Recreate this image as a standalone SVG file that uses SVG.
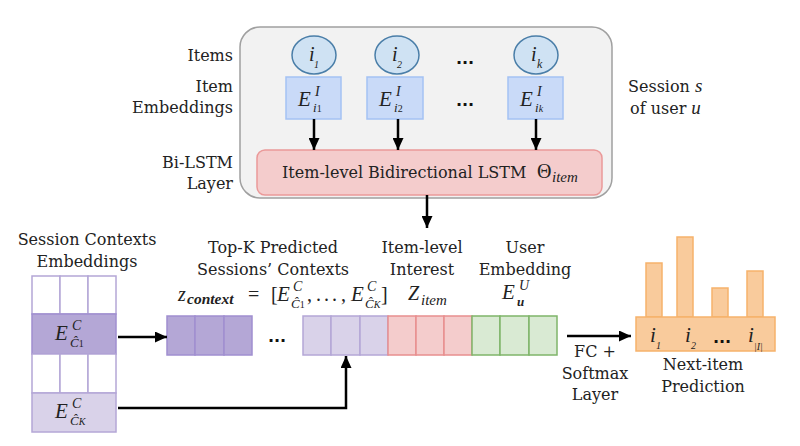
<svg xmlns="http://www.w3.org/2000/svg" width="800" height="446" viewBox="0 0 800 446">
<defs>
<marker id="ah" markerUnits="userSpaceOnUse" markerWidth="12" markerHeight="11" refX="12" refY="5.5" orient="auto">
<path d="M0,0 L12,5.5 L0,11 z" fill="#000"/>
</marker>
</defs>
<style>
.lbl{font-family:"DejaVu Serif","Liberation Serif",serif;font-size:16px;fill:#222}
.m{font-family:"Liberation Serif",serif;font-style:italic;fill:#222}
.up{font-family:"Liberation Serif",serif;font-style:normal;fill:#222}
.dots{font-family:"DejaVu Sans",sans-serif;font-size:16px;font-weight:bold;fill:#111}
.emb{fill:#c9daf8;stroke:#a4c2f4;stroke-width:1.5}
.item{fill:#cfe2f3;stroke:#4a7ea8;stroke-width:1.5}
.dp{fill:#b4a7d6;stroke:#a08fd0;stroke-width:1.5}
.lp{fill:#d9d2e9;stroke:#b4a7d6;stroke-width:1.5}
.wh{fill:#fff;stroke:#b4a7d6;stroke-width:1.5}
.rd{fill:#f4cccc;stroke:#e88f8f;stroke-width:1.5}
.gr{fill:#d9ead3;stroke:#7fb56a;stroke-width:1.5}
.or{fill:#f9cb9c;stroke:#f6b26b;stroke-width:1.5}
.cn{stroke:#000;stroke-width:2.5;fill:none}
</style>
<rect width="800" height="446" fill="#fff"/>

<g id="session">
<rect x="240" y="27" width="372" height="171" rx="20" fill="#f2f2f2" stroke="#a0a0a0" stroke-width="1.5"/>
</g>

<g id="labels-left">
<text class="lbl" x="233" y="61" text-anchor="end">Items</text>
<text class="lbl" x="233" y="92" text-anchor="end">Item</text>
<text class="lbl" x="233" y="113" text-anchor="end">Embeddings</text>
<text class="lbl" x="233" y="168" text-anchor="end">Bi-LSTM</text>
<text class="lbl" x="233" y="189" text-anchor="end">Layer</text>
</g>

<g id="session-label">
<text class="lbl" x="628" y="92">Session <tspan font-family="Liberation Serif" font-style="italic" font-size="19">s</tspan></text>
<text class="lbl" x="630" y="114">of user <tspan font-family="Liberation Serif" font-style="italic" font-size="19">u</tspan></text>
</g>

<g id="item1">
<ellipse class="item" cx="314" cy="55" rx="22" ry="19"/>
<text class="m" x="309" y="61" font-size="20">i</text>
<text class="m" x="314" y="68" font-size="10">1</text>
</g>
<g id="item2">
<ellipse class="item" cx="397" cy="55" rx="22" ry="19"/>
<text class="m" x="392" y="61" font-size="20">i</text>
<text class="m" x="397" y="68" font-size="10">2</text>
</g>
<g id="itemk">
<ellipse class="item" cx="536" cy="55" rx="22" ry="19"/>
<text class="m" x="531" y="61" font-size="20">i</text>
<text class="m" x="537" y="68" font-size="12">k</text>
</g>
<text class="dots" x="465" y="64" text-anchor="middle">...</text>

<g id="emb1">
<rect class="emb" x="286" y="77" width="55" height="42"/>
<text class="m" x="298" y="106" font-size="21">E</text>
<text class="m" x="315" y="96" font-size="14">I</text>
<text class="m" x="313" y="112" font-size="13">i<tspan font-size="10" font-style="normal">1</tspan></text>
</g>
<g id="emb2">
<rect class="emb" x="367" y="77" width="56" height="42"/>
<text class="m" x="379" y="106" font-size="21">E</text>
<text class="m" x="396" y="96" font-size="14">I</text>
<text class="m" x="394" y="112" font-size="13">i<tspan font-size="10" font-style="normal">2</tspan></text>
</g>
<g id="embk">
<rect class="emb" x="508" y="77" width="55" height="42"/>
<text class="m" x="520" y="106" font-size="21">E</text>
<text class="m" x="537" y="96" font-size="14">I</text>
<text class="m" x="535" y="112" font-size="13">i<tspan font-size="10">k</tspan></text>
</g>
<text class="dots" x="465" y="106" text-anchor="middle">...</text>

<g id="lstm">
<rect x="257" y="150" width="345" height="45" rx="8" fill="#f4cccc" stroke="#ea9999" stroke-width="1.5"/>
<text class="lbl" x="282" y="178">Item-level Bidirectional LSTM</text>
<text class="up" x="537" y="178" font-size="20">Θ</text>
<text class="m" x="552" y="182" font-size="15">item</text>
</g>

<g id="context-embeddings">
<text class="lbl" x="87" y="245" text-anchor="middle">Session Contexts</text>
<text class="lbl" x="87" y="267" text-anchor="middle">Embeddings</text>
<rect class="wh" x="32" y="276" width="28" height="38"/>
<rect class="wh" x="60" y="276" width="28" height="38"/>
<rect class="wh" x="88" y="276" width="28" height="38"/>
<rect class="dp" x="32" y="314" width="84" height="40"/>
<rect class="wh" x="32" y="354" width="28" height="39"/>
<rect class="wh" x="60" y="354" width="28" height="39"/>
<rect class="wh" x="88" y="354" width="28" height="39"/>
<rect class="lp" x="32" y="393" width="84" height="39"/>
<text class="m" x="55" y="340" font-size="21">E</text>
<text class="m" x="72" y="330" font-size="14">C</text>
<text class="m" x="70" y="347" font-size="13">Ĉ<tspan font-size="10" font-style="normal">1</tspan></text>
<text class="m" x="55" y="418" font-size="21">E</text>
<text class="m" x="72" y="408" font-size="14">C</text>
<text class="m" x="70" y="425" font-size="13">Ĉ<tspan font-size="10">K</tspan></text>
</g>

<g id="topk">
<text class="lbl" x="273" y="253" text-anchor="middle">Top-K Predicted</text>
<text class="lbl" x="273" y="275" text-anchor="middle">Sessions’ Contexts</text>
<text class="m" x="178" y="301" font-size="20">z</text>
<text class="m" x="187" y="304" font-size="15.5" font-weight="bold">context</text>
<text class="up" x="248" y="301" font-size="20">=</text>
<text class="up" x="271" y="301" font-size="20">[</text>
<text class="m" x="277" y="301" font-size="21">E</text>
<text class="m" x="293" y="291" font-size="14">C</text>
<text class="m" x="291" y="308" font-size="13">Ĉ<tspan font-size="10" font-style="normal">1</tspan></text>
<text class="up" x="307 316 324 332 341" y="301" font-size="20">,...,</text>
<text class="m" x="351" y="301" font-size="21">E</text>
<text class="m" x="367" y="291" font-size="14">C</text>
<text class="m" x="365" y="308" font-size="13">Ĉ<tspan font-size="10">K</tspan></text>
<text class="up" x="381" y="301" font-size="20">]</text>
<rect class="dp" x="167" y="316" width="28" height="39"/>
<rect class="dp" x="195" y="316" width="29" height="39"/>
<rect class="dp" x="224" y="316" width="28" height="39"/>
<text class="dots" x="277" y="342" text-anchor="middle">...</text>
<rect class="lp" x="303" y="316" width="28" height="39"/>
<rect class="lp" x="331" y="316" width="29" height="39"/>
<rect class="lp" x="360" y="316" width="28" height="39"/>
</g>

<g id="item-interest">
<text class="lbl" x="422" y="253" text-anchor="middle">Item-level</text>
<text class="lbl" x="422" y="275" text-anchor="middle">Interest</text>
<text class="m" x="408" y="300" font-size="20">Z</text>
<text class="m" x="421" y="305" font-size="15">item</text>
<rect class="rd" x="388" y="316" width="28" height="39"/>
<rect class="rd" x="416" y="316" width="28" height="39"/>
<rect class="rd" x="444" y="316" width="28" height="39"/>
</g>

<g id="user-embedding">
<text class="lbl" x="525" y="253" text-anchor="middle">User</text>
<text class="lbl" x="525" y="275" text-anchor="middle">Embedding</text>
<text class="m" x="502" y="299" font-size="21">E</text>
<text class="m" x="519" y="290" font-size="14">U</text>
<text class="m" x="517" y="306" font-size="13" font-weight="bold">u</text>
<rect class="gr" x="472" y="316" width="28" height="39"/>
<rect class="gr" x="500" y="316" width="29" height="39"/>
<rect class="gr" x="529" y="316" width="28" height="39"/>
</g>

<g id="fc-label">
<text class="lbl" x="595" y="357" text-anchor="middle">FC +</text>
<text class="lbl" x="595" y="379" text-anchor="middle">Softmax</text>
<text class="lbl" x="595" y="400" text-anchor="middle">Layer</text>
</g>

<g id="prediction">
<rect class="or" x="646" y="263" width="16" height="54"/>
<rect class="or" x="677" y="237" width="16" height="80"/>
<rect class="or" x="712" y="288" width="16" height="29"/>
<rect class="or" x="747" y="271" width="16" height="46"/>
<rect class="or" x="636" y="317" width="139" height="34"/>
<text class="m" x="650" y="342" font-size="21">i</text>
<text class="m" x="656" y="349" font-size="10">1</text>
<text class="m" x="685" y="342" font-size="21">i</text>
<text class="m" x="691" y="349" font-size="10">2</text>
<text class="dots" x="722" y="343" text-anchor="middle">...</text>
<text class="m" x="748" y="342" font-size="21">i</text>
<text class="m" x="754" y="350" font-size="10">|I|</text>
<text class="lbl" x="703" y="370" text-anchor="middle">Next-item</text>
<text class="lbl" x="703" y="392" text-anchor="middle">Prediction</text>
</g>

<g id="connectors">
<line class="cn" x1="314" y1="119" x2="314" y2="150" marker-end="url(#ah)"/>
<line class="cn" x1="398" y1="119" x2="398" y2="150" marker-end="url(#ah)"/>
<line class="cn" x1="536" y1="119" x2="536" y2="150" marker-end="url(#ah)"/>
<line class="cn" x1="427" y1="195" x2="427" y2="228" marker-end="url(#ah)"/>
<line class="cn" x1="118" y1="337" x2="167" y2="337" marker-end="url(#ah)"/>
<path class="cn" d="M118,408 H346 V356" marker-end="url(#ah)"/>
<line class="cn" x1="567" y1="336" x2="631" y2="336" marker-end="url(#ah)"/>
</g>
</svg>
